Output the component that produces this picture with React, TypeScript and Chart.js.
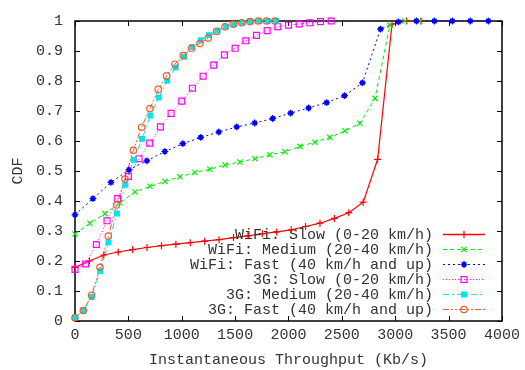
import React, { useEffect, useRef } from 'react';
import { Chart, registerables } from 'chart.js';

Chart.register(...registerables);

const FONT = "'Liberation Mono', 'DejaVu Sans Mono', monospace";
const TEXT = '#333333';

// ---- data ----
const wifiSlowX = [0, 135, 270, 405, 540, 675, 810, 945, 1080, 1215, 1350, 1485, 1620, 1755, 1890, 2025, 2160, 2295, 2430, 2565, 2700, 2835, 2970, 3105, 3240];
const wifiSlowY = [0.179, 0.2, 0.22, 0.23, 0.238, 0.245, 0.251, 0.256, 0.261, 0.266, 0.271, 0.278, 0.284, 0.291, 0.297, 0.304, 0.315, 0.326, 0.342, 0.361, 0.396, 0.539, 0.99, 1.0, 1.0];

const wifiMedX = [0, 140, 281, 421, 562, 702, 843, 983, 1124, 1264, 1405, 1545, 1686, 1826, 1967, 2107, 2248, 2388, 2529, 2669, 2810, 2950, 3091, 3231];
const wifiMedY = [0.29, 0.326, 0.358, 0.394, 0.43, 0.449, 0.465, 0.481, 0.495, 0.506, 0.52, 0.53, 0.541, 0.554, 0.564, 0.582, 0.596, 0.612, 0.634, 0.659, 0.742, 0.986, 1.0, 1.0];

const wifiFastX = [0, 168, 337, 505, 673, 842, 1010, 1178, 1347, 1515, 1683, 1852, 2020, 2188, 2357, 2525, 2693, 2862, 3030, 3198, 3367, 3535, 3703, 3872];
const wifiFastY = [0.354, 0.408, 0.462, 0.504, 0.534, 0.565, 0.591, 0.612, 0.63, 0.647, 0.66, 0.675, 0.693, 0.71, 0.728, 0.751, 0.794, 0.973, 0.997, 1.0, 1.0, 1.0, 1.0, 1.0];

const g3SlowX = [0, 100, 200, 300, 400, 500, 600, 700, 800, 900, 1000, 1100, 1200, 1300, 1400, 1500, 1600, 1700, 1800, 1900, 2000, 2100, 2200, 2300, 2400];
const g3SlowY = [0.172, 0.19, 0.255, 0.334, 0.408, 0.482, 0.541, 0.593, 0.647, 0.692, 0.733, 0.776, 0.816, 0.853, 0.887, 0.909, 0.934, 0.952, 0.968, 0.981, 0.986, 0.99, 0.994, 0.998, 1.0];

const g3MedX = [0, 79, 157, 236, 314, 393, 471, 550, 628, 707, 785, 864, 942, 1021, 1099, 1178, 1256, 1335, 1413, 1492, 1570, 1649, 1727, 1806, 1884];
const g3MedY = [0.011, 0.035, 0.08, 0.167, 0.262, 0.358, 0.454, 0.537, 0.607, 0.685, 0.745, 0.801, 0.845, 0.881, 0.913, 0.936, 0.953, 0.968, 0.981, 0.989, 0.994, 0.998, 1.0, 1.0, 1.0];

const g3FastX = [0, 78, 156, 234, 312, 390, 468, 546, 624, 702, 780, 858, 936, 1014, 1092, 1170, 1248, 1326, 1404, 1482, 1560, 1638, 1716, 1794, 1872];
const g3FastY = [0.011, 0.035, 0.086, 0.179, 0.283, 0.387, 0.473, 0.569, 0.646, 0.708, 0.772, 0.817, 0.856, 0.885, 0.909, 0.925, 0.943, 0.965, 0.981, 0.989, 0.994, 0.998, 1.0, 1.0, 1.0];

const seriesLabels = [
  'WiFi: Slow (0-20 km/h)',
  'WiFi: Medium (20-40 km/h)',
  'WiFi: Fast (40 km/h and up)',
  '3G: Slow (0-20 km/h)',
  '3G: Medium (20-40 km/h)',
  '3G: Fast (40 km/h and up)',
];

const xTickValues = [0, 500, 1000, 1500, 2000, 2500, 3000, 3500, 4000];
const yTickValues = [0, 0.1, 0.2, 0.3, 0.4, 0.5, 0.6, 0.7, 0.8, 0.9, 1];

const xTitle = 'Instantaneous Throughput (Kb/s)';
const yTitle = 'CDF';

// ---- styles ----
const styles = [
  { color: '#ff0000', dash: [], point: 'cross', r: 3.5, fill: false, lw: 1.2 },
  { color: '#00ee00', dash: [4, 3], point: 'crossRot', r: 3.5, fill: false, lw: 1 },
  { color: '#0000ff', dash: [2, 3], point: 'star', r: 3.4, fill: true, lw: 1 },
  { color: '#ff00ff', dash: [1, 2], point: 'rect', r: 4.2, fill: false, lw: 1 },
  { color: '#00e5ee', dash: [6, 3, 2, 3], point: 'rect', r: 4.2, fill: true, lw: 1 },
  { color: '#f45a25', dash: [6, 2, 2, 2, 2, 2], point: 'circle', r: 3.2, fill: false, lw: 1 },
];

const xs = [wifiSlowX, wifiMedX, wifiFastX, g3SlowX, g3MedX, g3FastX];
const ys = [wifiSlowY, wifiMedY, wifiFastY, g3SlowY, g3MedY, g3FastY];

function drawMarker(ctx: CanvasRenderingContext2D, style: string, x: number, y: number, r: number, color: string, fill: boolean) {
  ctx.save();
  ctx.setLineDash([]);
  ctx.strokeStyle = color;
  ctx.fillStyle = color;
  ctx.lineWidth = 1.2;
  ctx.beginPath();
  if (style === 'cross') {
    ctx.moveTo(x - r, y); ctx.lineTo(x + r, y);
    ctx.moveTo(x, y - r); ctx.lineTo(x, y + r);
    ctx.stroke();
  } else if (style === 'crossRot') {
    const d = r * 0.75;
    ctx.moveTo(x - d, y - d); ctx.lineTo(x + d, y + d);
    ctx.moveTo(x + d, y - d); ctx.lineTo(x - d, y + d);
    ctx.stroke();
  } else if (style === 'star') {
    const d = r * 0.7;
    ctx.rect(x - d, y - d, 2 * d, 2 * d);
    ctx.fill();
    ctx.beginPath();
    ctx.moveTo(x - r, y); ctx.lineTo(x + r, y);
    ctx.moveTo(x, y - r); ctx.lineTo(x, y + r);
    ctx.stroke();
  } else if (style === 'rect') {
    const s = r * Math.SQRT1_2;
    ctx.rect(x - s, y - s, 2 * s, 2 * s);
    if (fill) ctx.fill(); else ctx.stroke();
  } else if (style === 'circle') {
    ctx.arc(x, y, r, 0, Math.PI * 2);
    ctx.stroke();
  }
  ctx.restore();
}

const framePlugin = {
  id: 'gnuFrame',
  beforeDatasetsDraw(chart: any) {
    const { ctx, chartArea } = chart;
    const { left, right, top, bottom } = chartArea;
    const xs_ = chart.scales.x;
    const ys_ = chart.scales.y;
    const tl = 5;
    ctx.save();
    ctx.strokeStyle = '#000';
    ctx.lineWidth = 1;
    ctx.beginPath();
    xTickValues.forEach((v) => {
      const px = Math.round(xs_.getPixelForValue(v)) + 0.5;
      ctx.moveTo(px, bottom); ctx.lineTo(px, bottom - tl);
      ctx.moveTo(px, top); ctx.lineTo(px, top + tl);
    });
    yTickValues.forEach((v) => {
      const py = Math.round(ys_.getPixelForValue(v)) + 0.5;
      ctx.moveTo(left, py); ctx.lineTo(left + tl, py);
      ctx.moveTo(right, py); ctx.lineTo(right - tl, py);
    });
    ctx.stroke();
    ctx.lineWidth = 1.5;
    ctx.strokeRect(left, top, right - left, bottom - top);
    ctx.restore();
  },
  afterDatasetsDraw(chart: any) {
    const { ctx, chartArea } = chart;
    const textRight = chartArea.right - 69;
    const lineL = chartArea.right - 59;
    const lineR = chartArea.right - 17;
    const mid = (lineL + lineR) / 2;
    const y0 = chartArea.bottom - 87;
    ctx.save();
    ctx.font = `15px ${FONT}`;
    ctx.textAlign = 'right';
    ctx.textBaseline = 'middle';
    chart.data.datasets.forEach((ds: any, i: number) => {
      const st = styles[i];
      const y = y0 + i * 15;
      ctx.fillStyle = TEXT;
      ctx.fillText(ds.label, textRight, y + 1);
      ctx.strokeStyle = st.color;
      ctx.lineWidth = i === 0 ? 1.6 : 1.2;
      ctx.setLineDash(st.dash);
      ctx.beginPath();
      ctx.moveTo(lineL, y + 0.5);
      ctx.lineTo(lineR, y + 0.5);
      ctx.stroke();
      drawMarker(ctx, st.point, mid, y + 0.5, st.r, st.color, st.fill);
    });
    ctx.restore();
  },
};

const markerPlugin = {
  id: 'gnuMarkers',
  afterDatasetsDraw(chart: any) {
    const { ctx } = chart;
    chart.data.datasets.forEach((ds: any, i: number) => {
      const st = styles[i];
      const meta = chart.getDatasetMeta(i);
      meta.data.forEach((pt: any) => {
        drawMarker(ctx, st.point, pt.x, pt.y, st.r, st.color, st.fill);
      });
    });
  },
};

export default function App() {
  const ref = useRef<HTMLCanvasElement>(null);
  useEffect(() => {
    if (!ref.current) return;
    const datasets = seriesLabels.map((label, i) => ({
      label,
      data: xs[i].map((x, j) => ({ x, y: ys[i][j] })),
      showLine: true,
      borderColor: styles[i].color,
      backgroundColor: styles[i].color,
      borderWidth: styles[i].lw,
      borderDash: styles[i].dash,
      pointRadius: 0,
      pointHoverRadius: 0,
      tension: 0,
      clip: false as any,
    }));
    const chart = new Chart(ref.current, {
      type: 'scatter',
      data: { datasets },
      plugins: [framePlugin, markerPlugin],
      options: {
        animation: false,
        responsive: false,
        events: [],
        layout: { padding: { top: 9, right: 23, left: 0, bottom: 0 } },
        plugins: { legend: { display: false }, tooltip: { enabled: false } },
        scales: {
          x: {
            type: 'linear',
            min: 0,
            max: 4000,
            afterFit: (s: any) => { s.height = 49; },
            afterBuildTicks: (s: any) => { s.ticks = xTickValues.map((v) => ({ value: v })); },
            grid: { display: false, drawTicks: false },
            border: { display: false },
            ticks: {
              padding: 5,
              color: TEXT,
              font: { family: FONT, size: 15 },
              maxRotation: 0,
              callback: (v: any) => String(v),
            },
            title: {
              display: true,
              text: xTitle,
              color: TEXT,
              font: { family: FONT, size: 15 },
              padding: { top: 0, bottom: 1 },
            },
          },
          y: {
            type: 'linear',
            min: 0,
            max: 1,
            afterFit: (s: any) => { s.width = 75; },
            afterBuildTicks: (s: any) => { s.ticks = yTickValues.map((v) => ({ value: v })); },
            grid: { display: false, drawTicks: false },
            border: { display: false },
            ticks: {
              padding: 12,
              color: TEXT,
              font: { family: FONT, size: 15 },
              callback: (v: any) => String(Math.round(v * 10) / 10),
            },
            title: {
              display: true,
              text: yTitle,
              color: TEXT,
              font: { family: FONT, size: 15 },
              padding: { top: 9, bottom: 0 },
            },
          },
        },
      },
    });
    return () => chart.destroy();
  }, []);
  return (
    <div style={{ position: 'fixed', left: 0, top: 0, width: 525, height: 370, background: '#fff' }}>
      <canvas ref={ref} width={525} height={370} style={{ display: 'block' }} />
    </div>
  );
}
